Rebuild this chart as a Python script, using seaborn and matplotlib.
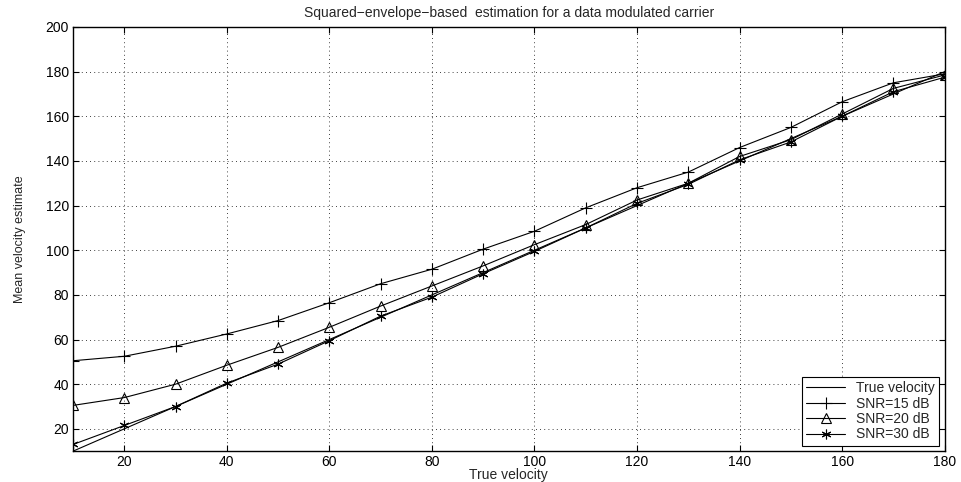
import matplotlib
matplotlib.use("Agg")
import matplotlib.pyplot as plt
import seaborn as sns
import pandas as pd
import numpy as np

velocity = [10, 20, 30, 40, 50, 60, 70, 80, 90, 100, 110, 120, 130, 140, 150, 160, 170, 180]
true_vel = [10, 20, 30, 40, 50, 60, 70, 80, 90, 100, 110, 120, 130, 140, 150, 160, 170, 180]
snr15 = [50.5, 52.5, 57, 62.5, 68.5, 76.5, 85, 91.5, 100.5, 108.5, 119, 128, 135, 146, 155, 166.5, 175, 179]
snr20 = [30.5, 34, 40, 48.5, 56.5, 65.5, 75, 84, 93, 102.5, 111.5, 122.5, 130, 142, 149.5, 161, 172.5, 178.5]
snr30 = [13, 21.5, 30, 40.5, 49, 59.5, 70.5, 79, 89.5, 99.5, 110, 121, 129.5, 140.5, 148.5, 160, 171, 177.5]
labels = ["True velocity", "SNR=15 dB", "SNR=20 dB", "SNR=30 dB"]
xticks = [20, 40, 60, 80, 100, 120, 140, 160, 180]
yticks = [20, 40, 60, 80, 100, 120, 140, 160, 180, 200]

sns.set_style("ticks")
plt.rcParams['font.family'] = ['Liberation Sans', 'DejaVu Sans']

fig = plt.figure(figsize=(9.61, 4.82), dpi=100)
ax = fig.add_axes([0.076, 0.064, 0.907, 0.880])

series = [true_vel, snr15, snr20, snr30]
markers = [None, '+', '^', (6, 2, 0)]
sizes = [0, 8, 7, 7]
for vals, lab, mk, ms in zip(series, labels, markers, sizes):
    df = pd.DataFrame({"x": velocity, "y": vals})
    sns.lineplot(data=df, x="x", y="y", ax=ax, color="black", linewidth=0.8,
                 marker=mk, markersize=ms, markerfacecolor="none",
                 markeredgecolor="black", markeredgewidth=0.8, label=lab)

ax.set_xlim(10, 180)
ax.set_ylim(10, 200)
ax.set_xticks(xticks)
ax.set_yticks(yticks)
ax.tick_params(direction="in", length=4, width=0.8, labelsize=10, colors="black",
               top=True, right=True, pad=3)
ax.grid(True, linestyle=(0, (1, 4)), color="black", linewidth=0.6)
for s in ax.spines.values():
    s.set_color("black")
    s.set_linewidth(1.0)
ax.set_xlabel("True velocity", fontsize=10, labelpad=-1)
ax.set_ylabel("Mean velocity estimate", fontsize=9, labelpad=14)
ax.set_title("Squared\u2212envelope\u2212based  estimation for a data modulated carrier", fontsize=10, pad=7)

leg = ax.legend(loc="lower right", fontsize=10, frameon=True, fancybox=False,
                edgecolor="black", framealpha=1, borderpad=0.3, labelspacing=0.1,
                handlelength=2.8, borderaxespad=0.4)
leg.get_frame().set_linewidth(0.8)

fig.savefig("out.png", dpi=100)
